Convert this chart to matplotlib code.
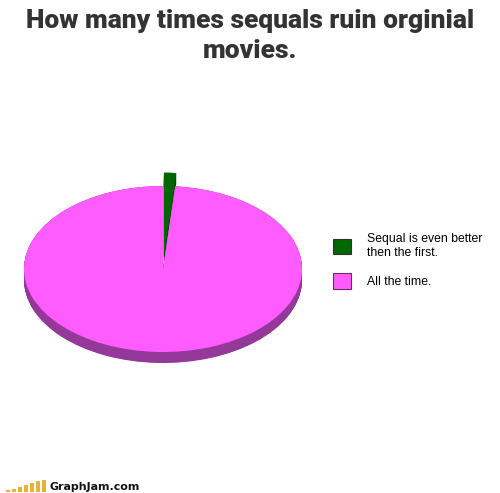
import numpy as np
import matplotlib
matplotlib.use("Agg")
import matplotlib.pyplot as plt
from matplotlib.patches import Patch

# data
labels = ["Sequal is even better\nthen the first.", "All the time."]
values = [1.4, 98.6]
top_colors = ["#006600", "#ff5cff"]
side_colors = ["#004400", "#94399a"]
explode = [0.16, 0.0]
title = "How many times sequals ruin orginial\nmovies."
logo_bars = [2, 3, 5, 7, 9, 11, 12]

W, H = 500, 493
fig = plt.figure(figsize=(W / 100, H / 100), dpi=100)
fig.patch.set_facecolor("white")

# pie axes: ellipse centre (163, 269) px, rx 139, ry 83
cx, cy, rx, ry = 163, 269, 139, 83
xl, yl = 1.1, 1.3
ax = fig.add_axes([(cx - rx * xl) / W, (H - cy - ry * yl) / H,
                   2 * rx * xl / W, 2 * ry * yl / H])

depth = 11 / ry
for d in np.linspace(depth, 0.0, 24):
    ax.pie(values, colors=side_colors, startangle=90, counterclock=False,
           explode=explode, center=(0, -d), wedgeprops=dict(linewidth=0))
wedges, _ = ax.pie(values, colors=top_colors, startangle=90, counterclock=False,
                   explode=explode, wedgeprops=dict(linewidth=0))
ax.set_aspect("auto")
ax.set_xlim(-xl, xl)
ax.set_ylim(-yl, yl)
ax.axis("off")

# legend
handles = [Patch(facecolor=top_colors[0], edgecolor="#333333", linewidth=0.8),
           Patch(facecolor=top_colors[1], edgecolor="#6a2a6a", linewidth=0.8)]
fig.legend(handles, labels, loc="upper left", bbox_to_anchor=(322 / W, 1 - 222 / H),
           frameon=False, handlelength=1.5, handleheight=1.6,
           handletextpad=1.25, labelspacing=1.15,
           prop={"family": ["Liberation Sans", "DejaVu Sans"], "size": 8.8})

# title
fig.text(0.5, 1 - 9 / H, title, ha="center", va="top", fontsize=19,
         fontweight=900, color="#333333", linespacing=1.3,
         family=["Roboto", "DejaVu Sans"])

# GraphJam logo
lax = fig.add_axes([5 / W, 1 / H, 42 / W, 12 / H])
lax.bar(range(len(logo_bars)), logo_bars, width=0.65, color="#e8b23a")
lax.set_xlim(-0.5, len(logo_bars) - 0.5)
lax.set_ylim(0, 12)
lax.axis("off")
fig.text(49 / W, 1 - 487 / H, "GraphJam.com", ha="left", va="center",
         fontsize=7.9, fontweight="bold", color="#111111",
         family=["DejaVu Sans"])

fig.savefig("out.png", dpi=100, facecolor="white")
